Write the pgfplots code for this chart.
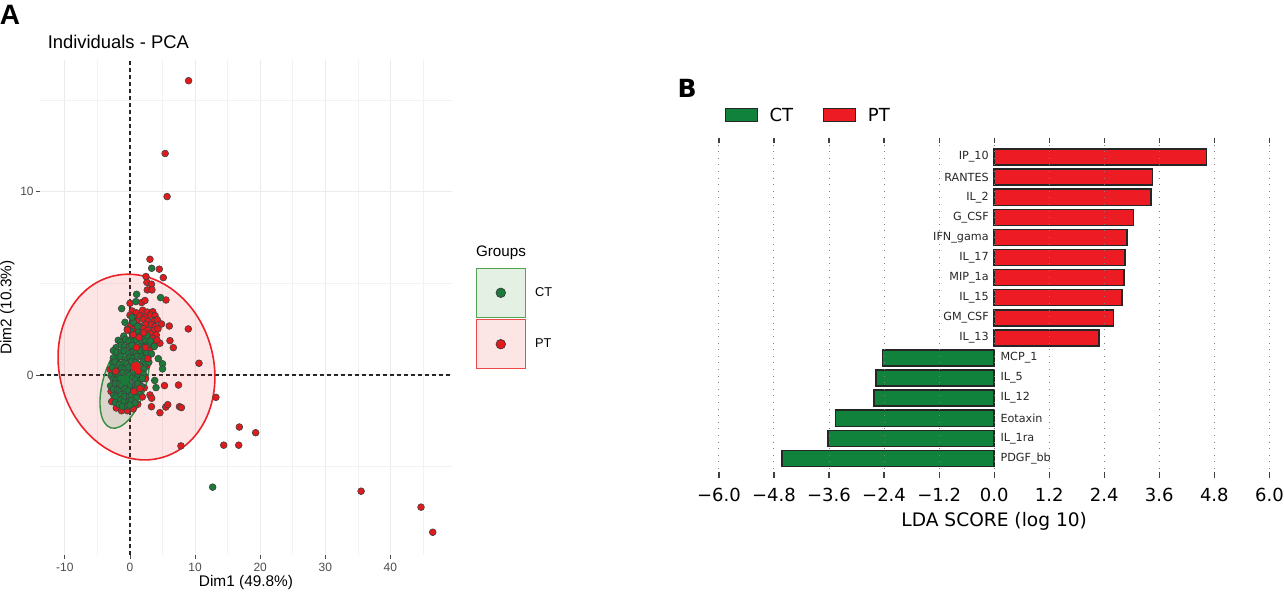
\documentclass[border=0pt]{standalone}
\usepackage{fontspec}
\setmainfont{Liberation Sans}
\newfontfamily\dejavu{DejaVu Sans}
\usepackage{pgfplots}
\pgfplotsset{compat=1.18}
\definecolor{ptred}{RGB}{227,26,28}
\definecolor{ptgreen}{RGB}{27,122,58}
\definecolor{ellred}{RGB}{236,34,40}
\definecolor{ellgreen}{RGB}{52,140,64}
\definecolor{ctbox}{RGB}{229,240,229}
\definecolor{ctboxline}{RGB}{80,165,85}
\definecolor{ptbox}{RGB}{252,229,229}
\definecolor{ptboxline}{RGB}{238,72,72}
\definecolor{barred}{RGB}{237,28,36}
\definecolor{bargreen}{RGB}{16,130,60}
\definecolor{tickgray}{RGB}{77,77,77}
\begin{document}
\begin{tikzpicture}
\useasboundingbox (0,0) rectangle (642pt,296.5pt);
% ---------------- Panel A ----------------
\begin{axis}[name=pa, at={(20pt,19pt)}, anchor=south west, scale only axis,
  width=206pt, height=247.5pt,
  xmin=-13.82, xmax=49.46, ymin=-9.82, ymax=17.18,
  axis line style={draw=none},
  xtick={-10,0,10,20,30,40}, xticklabels={-10,0,10,20,30,40},
  ytick={0,10}, yticklabels={0,10},
  minor xtick={-5,5,15,25,35,45}, minor ytick={-5,5,15},
  grid=both, major grid style={draw=black!8, line width=0.5pt},
  minor grid style={draw=black!5, line width=0.3pt},
  tick align=outside, tick pos=left, major tick length=2pt, minor tick length=0pt,
  tick style={draw=tickgray, line width=0.4pt},
  ticklabel style={font=\fontsize{6}{7}\selectfont, text=tickgray, inner sep=0pt},
  xticklabel style={anchor=north}, xticklabel shift=1.85pt,
  yticklabel style={anchor=east}, yticklabel shift=1pt,
  legend style={at={(1.0575,0.5804)}, anchor=north west, draw=none, fill=none,
    inner sep=0pt, outer sep=0pt, row sep=0.6pt, column sep=4.6pt,
    nodes={inner sep=0pt, font=\fontsize{6.4}{7}\selectfont}},
  legend cell align=left,
]
\addplot[black!85, line width=0.65pt, dash pattern=on 2pt off 1.5pt, forget plot] coordinates {(0,-9.82) (0,17.18)};
\addplot[black!85, line width=0.65pt, dash pattern=on 2pt off 1.5pt, forget plot] coordinates {(-13.82,0) (49.46,0)};
\draw[ellred, line width=0.8pt, fill=ellred, fill opacity=0.12, rotate around={16:(axis cs:1.0,0.43)}]
  (axis cs:1.0,0.43) ellipse [x radius=38.5pt, y radius=47pt];
\draw[ellgreen, line width=0.7pt, fill=ptgreen, fill opacity=0.15, rotate around={-16.7:(axis cs:-0.82,-0.39)}]
  (axis cs:-0.82,-0.39) ellipse [x radius=10.7pt, y radius=23.9pt];
% red points (PT)
\addplot[only marks, mark=*, mark size=1.7pt, mark options={fill=ptred, draw=black!75, line width=0.3pt}, forget plot] coordinates {
(9.0,16.05) (5.4,12.08) (5.7,9.73) (3.07,6.31) (4.5,5.77) (5.12,5.31) (2.46,5.37) (2.6,5.05) (3.3,4.95)
(2.66,4.64) (3.37,4.64) (5.53,4.09) (1.8,3.95) (2.3,4.06) (0.0,3.91) (6.04,2.67) (8.96,2.51) (6.14,1.87)
(6.66,1.49) (4.1,1.9) (4.6,1.73) (10.6,0.64) (13.2,-1.22) (5.3,-0.58) (7.45,-0.55) (3.07,-1.09) (3.33,-1.27)
(3.3,-1.73) (4.6,-2.06) (5.5,-1.75) (5.8,-1.62) (7.6,-1.73) (7.9,-1.78) (7.83,-3.87) (14.4,-3.83) (16.7,-3.83)
(16.8,-2.84) (19.3,-3.15) (35.5,-6.34) (44.7,-7.21) (46.5,-8.58)
(0.35,3.49) (1.0,3.39) (1.95,3.53) (2.65,3.43) (3.5,3.45)
(0.0,3.26) (0.62,3.12) (1.55,3.22) (2.25,3.16) (3.2,3.27) (3.85,3.24)
(0.45,2.99) (1.05,2.89) (2.05,3.03) (2.75,2.93) (3.75,2.95) (4.2,3.01)
(0.1,2.66) (0.8,2.72) (1.52,2.66) (2.44,2.77) (3.3,2.74) (3.85,2.64) (4.85,2.78)
(0.5,2.49) (1.05,2.39) (2.05,2.53) (2.75,2.43) (3.75,2.45) (4.3,2.51)
(2.5,2.16) (3.1,2.26) (4.05,2.18) (2.55,1.93) (3.5,1.99) (4.15,1.9) (2.95,1.72) (3.6,1.66) (3.05,1.38)
(-2.9,-0.9) (-2.8,-1.45) (-2.1,-1.8) (-1.3,-1.95) (-0.4,-1.95) (0.5,-1.85) (1.2,-1.6) (1.9,-1.2)
(2.2,-0.7) (2.4,-0.2) (2.6,0.5) (2.9,1.1) (-3.05,0.3) (-2.0,-1.5)
};
% green points (CT)
\addplot[only marks, mark=*, mark size=1.7pt, mark options={fill=ptgreen, draw=black!75, line width=0.3pt}, forget plot] coordinates {
(0.1,2.38) (1.25,2.32) (-0.4,2.5) (-0.95,2.12) (0.35,2.05) (1.55,2.15)
(-1.80,1.89) (-1.45,1.79) (-0.65,1.93) (-0.15,1.83) (0.65,1.85) (1.00,1.91) (1.70,1.77) (2.42,1.87)
(-2.15,1.49) (-1.35,1.63) (-0.85,1.53) (-0.05,1.55) (0.30,1.61) (1.00,1.47) (1.72,1.57) (2.12,1.51) (2.74,1.62)
(-2.55,1.33) (-2.05,1.23) (-1.25,1.25) (-0.90,1.31) (-0.20,1.17) (0.52,1.27) (0.92,1.21) (1.64,1.32) (2.30,1.29) (2.55,1.19)
(-2.55,0.93) (-1.75,0.95) (-1.40,1.01) (-0.70,0.87) (0.02,0.97) (0.42,0.91) (1.14,1.02) (1.80,0.99) (2.15,0.89)
(-2.65,0.65) (-2.30,0.71) (-1.60,0.57) (-0.88,0.67) (-0.48,0.61) (0.24,0.72) (0.90,0.69) (1.25,0.59) (2.05,0.73) (2.45,0.63)
(-2.70,0.41) (-2.00,0.27) (-1.28,0.37) (-0.88,0.31) (-0.16,0.42) (0.50,0.39) (0.85,0.29) (1.65,0.43) (2.15,0.33)
(-2.90,-0.03) (-2.18,0.07) (-1.78,0.01) (-1.06,0.12) (-0.40,0.09) (-0.05,-0.01) (0.75,0.13) (1.25,0.03) (2.05,0.05)
(-2.58,-0.23) (-2.18,-0.29) (-1.46,-0.18) (-0.80,-0.21) (-0.45,-0.31) (0.35,-0.17) (0.85,-0.27) (1.65,-0.25) (1.90,-0.19)
(-2.98,-0.59) (-2.26,-0.48) (-1.60,-0.51) (-1.25,-0.61) (-0.45,-0.47) (0.05,-0.57) (0.85,-0.55) (1.20,-0.49) (1.80,-0.63)
(-2.56,-0.78) (-1.90,-0.81) (-1.55,-0.91) (-0.75,-0.77) (-0.25,-0.87) (0.55,-0.85) (0.90,-0.79) (1.50,-0.93)
(-2.50,-1.11) (-2.15,-1.21) (-1.35,-1.07) (-0.85,-1.17) (-0.05,-1.15) (0.30,-1.09) (1.00,-1.23)
(-2.25,-1.51) (-1.45,-1.37) (-0.95,-1.47) (-0.15,-1.45) (0.20,-1.39) (0.80,-1.53)
(-1.65,-1.62) (-1.15,-1.72) (-0.35,-1.70) (0.00,-1.64)
(-1.28,3.62) (1.02,4.40) (-0.77,2.87) (0.51,2.87) (3.33,5.82) (4.7,4.22) (3.74,1.55) (4.35,0.89)
(5.0,0.61) (5.0,0.33) (4.0,-0.69) (12.7,-6.12) (0.3,3.15) (1.2,2.65) (2.6,2.15) (3.1,1.85) (3.3,1.15)
(2.9,0.7) (0.9,4.0) (3.8,-0.3)
};
% red points drawn on top
\addplot[only marks, mark=*, mark size=1.7pt, mark options={fill=ptred, draw=black!75, line width=0.3pt}, forget plot] coordinates {
(0.5,2.2) (1.4,2.05) (2.1,2.3) (2.4,1.5) (2.75,0.9) (-0.4,2.45) (1.0,1.5) (0.6,-0.9) (-2.2,0.2) (1.54,-0.73) (1.28,0.2)
};
% group means
\addplot[only marks, mark=*, mark size=2.2pt, color=ptgreen, forget plot] coordinates {(-0.77,-0.27)};
\addplot[only marks, mark=*, mark size=2.2pt, color=ptred, forget plot] coordinates {(0.92,0.45)};
\addlegendimage{legend image code/.code={
  \draw[draw=ctboxline, fill=ctbox, line width=0.6pt] (0pt,-11.95pt) rectangle (24.5pt,12.55pt);
  \filldraw[fill=ptgreen, draw=black!80, line width=0.3pt] (12.25pt,0.3pt) circle (2.4pt);}}
\addlegendentry{CT}
\addlegendimage{legend image code/.code={
  \draw[draw=ptboxline, fill=ptbox, line width=0.6pt] (0pt,-11.95pt) rectangle (24.5pt,12.55pt);
  \filldraw[fill=ptred, draw=black!80, line width=0.3pt] (12.25pt,0.3pt) circle (2.4pt);}}
\addlegendentry{PT}
\end{axis}
% ---------------- Panel B ----------------
\begin{axis}[name=pb, at={(359.45pt,57.75pt)}, anchor=south west, scale only axis,
  width=275.25pt, height=169.75pt,
  xmin=-6, xmax=6, ymin=-0.95, ymax=15.95, y dir=reverse,
  axis line style={draw=none}, axis on top,
  xtick={-6,-4.8,-3.6,-2.4,-1.2,0,1.2,2.4,3.6,4.8,6},
  xticklabels={−6.0,−4.8,−3.6,−2.4,−1.2,0.0,1.2,2.4,3.6,4.8,6.0},
  ytick=\empty,
  xmajorgrids, major grid style={draw=black!50, line width=0.5pt, dash pattern=on 0.5pt off 2.8pt},
  tick align=inside, major tick length=2.7pt, tick style={draw=black!75, line width=0.6pt},
  xticklabel style={font=\dejavu\fontsize{9}{10}\selectfont, anchor=north, inner sep=0pt},
  xticklabel shift=4.97pt,
  legend columns=2,
  legend style={at={(0.0107,1.0875)}, anchor=north west, draw=none, fill=none,
    inner sep=0pt, outer sep=0pt, column sep=5.8pt,
    nodes={inner sep=0pt, font=\dejavu\fontsize{9}{10}\selectfont},
    /tikz/every even column/.append style={column sep=15pt}},
]
\addplot[xbar, bar width=0.8, bar shift=0pt, fill=barred, draw=black!85, line width=0.75pt, forget plot] coordinates {
(4.63,0) (3.45,1) (3.42,2) (3.04,3) (2.90,4) (2.85,5) (2.83,6) (2.79,7) (2.60,8) (2.28,9)};
\addplot[xbar, bar width=0.8, bar shift=0pt, fill=bargreen, draw=black!85, line width=0.75pt, forget plot] coordinates {
(-2.43,10) (-2.58,11) (-2.62,12) (-3.46,13) (-3.62,14) (-4.62,15)};
\addplot[draw=none, mark=none, forget plot, point meta=explicit symbolic, nodes near coords,
  nodes near coords style={anchor=east, inner sep=0pt, font=\dejavu\fontsize{5.6}{6}\selectfont, text=black!85}] coordinates {
(-0.11,0) [IP\_10] (-0.11,1) [RANTES] (-0.11,2) [IL\_2] (-0.11,3) [G\_CSF] (-0.11,4) [IFN\_gama]
(-0.11,5) [IL\_17] (-0.11,6) [MIP\_1a] (-0.11,7) [IL\_15] (-0.11,8) [GM\_CSF] (-0.11,9) [IL\_13]};
\addplot[draw=none, mark=none, forget plot, point meta=explicit symbolic, nodes near coords,
  nodes near coords style={anchor=west, inner sep=0pt, font=\dejavu\fontsize{5.6}{6}\selectfont, text=black!85}] coordinates {
(0.13,10) [MCP\_1] (0.13,11) [IL\_5] (0.13,12) [IL\_12] (0.13,13) [Eotaxin] (0.13,14) [IL\_1ra] (0.13,15) [PDGF\_bb]};
\addlegendimage{legend image code/.code={\draw[fill=bargreen, draw=black!85, line width=0.6pt] (0pt,-2.3pt) rectangle (16pt,3.9pt);}}
\addlegendentry{CT}
\addlegendimage{legend image code/.code={\draw[fill=barred, draw=black!85, line width=0.6pt] (0pt,-2.3pt) rectangle (16pt,3.9pt);}}
\addlegendentry{PT}
\end{axis}
% ---------------- texts ----------------
\node[font=\fontsize{14}{16}\selectfont\bfseries] at (5pt,289pt) {A};
\node[anchor=west, font=\fontsize{9.2}{11}\selectfont] at (20.35pt,275.65pt) {Individuals - PCA};
\node[font=\fontsize{7.7}{9}\selectfont] at (123pt,5pt) {Dim1 (49.8\%)};
\node[rotate=90, font=\fontsize{7.7}{9}\selectfont] at (3.75pt,142.75pt) {Dim2 (10.3\%)};
\node[anchor=west, inner sep=0pt, font=\fontsize{7.6}{9}\selectfont] at (237.85pt,170pt) {Groups};
\node[font=\dejavu\fontsize{12.5}{14}\selectfont\bfseries] at (343.6pt,252.5pt) {B};
\node[font=\dejavu\fontsize{9.3}{11}\selectfont] at (497.1pt,36pt) {LDA SCORE (log 10)};
\end{tikzpicture}
\end{document}
